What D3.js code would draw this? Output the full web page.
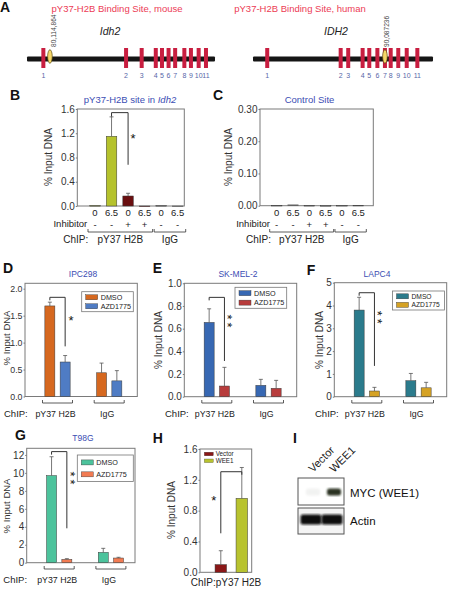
<!DOCTYPE html>
<html><head><meta charset="utf-8">
<script src="https://cdn.jsdelivr.net/npm/d3@7"></script>
<style>body{margin:0;background:#fff}svg{display:block;font-family:"Liberation Sans",Arial,sans-serif}</style>
</head><body><svg id="fig" width="450" height="589"></svg>
<script>
// ---------------- DATA ----------------
// Panel A: gene schematics (positions on a 0-100 schematic axis)
const exonNumbers = ["1","2","3","4","5","6","7","8","9","10","11"];
const mouseExonPos = [8.7, 52.7, 61.0, 68.5, 71.8, 75.3, 78.8, 83.7, 87.2, 91.3, 95.2];
const mouseSitePos = [12.2];
const mouseSiteLabel = "80,114,864";
const humanExonPos = [7.9, 48.7, 52.9, 60.9, 64.6, 69.1, 73.3, 76.5, 80.7, 85.4, 91.3];
const humanSitePos = [73.3];
const humanSiteLabel = "90,087236";

// Panels B, C
const bcDose = ["0", "6.5", "0", "6.5", "0", "6.5"];
const bcInhibitor = ["-", "-", "+", "+", "-", "-"];
const bcGroupIndex = [0, 0, 0, 0, 1, 1];
const chipGroups = ["pY37 H2B", "IgG"];
const bValues = [0.006, 1.15, 0.165, 0, 0.006, 0];
const bErrors = [0, 0.32, 0.045, 0, 0, 0];
const cValues = [0.0006, 0.0025, 0.0004, 0, 0.0004, 0.0008];
const cErrors = [0, 0, 0, 0, 0, 0];

// Panels D-G
const drugSeries = ["DMSO", "AZD1775"];
const dDMSO = [1.68, 0.44], dDMSOErr = [0.07, 0.18], dAZD = [0.64, 0.29], dAZDErr = [0.12, 0.19];
const eDMSO = [0.655, 0.10], eDMSOErr = [0.12, 0.053], eAZD = [0.094, 0.074], eAZDErr = [0.165, 0.07];
const fDMSO = [3.8, 0.70], fDMSOErr = [0.56, 0.32], fAZD = [0.25, 0.39], fAZDErr = [0.16, 0.24];
const gDMSO = [9.7, 1.15], gDMSOErr = [2.1, 0.45], gAZD = [0.37, 0.52], gAZDErr = [0.08, 0.08];

// Panel H
const hSeries = ["Vector", "WEE1"];
const hValues = [0.10, 0.96];
const hErrors = [0.18, 0.40];

// Panel I (western blot)
const blotLanes = ["Vector", "WEE1"];
const blotRows = ["MYC (WEE1)", "Actin"];
const mycIntensity = [0.06, 1];
const actinIntensity = [1, 1];

// Ticks
const bTicks = [0, 0.4, 0.8, 1.2, 1.6];
const cTicks = [0, 0.1, 0.2, 0.3];
const dTicks = [0, 0.5, 1.0, 1.5, 2.0];
const eTicks = [0, 0.2, 0.4, 0.6, 0.8, 1.0];
const fTicks = [0, 1, 2, 3, 4, 5];
const gTicks = [0, 2, 4, 6, 8, 10, 12];
const hTicks = [0, 0.4, 0.8, 1.2, 1.6];

// ---------------- DRAWING ----------------
const FONT = '"Liberation Sans", Arial, Helvetica, sans-serif';
const svg = d3.select("#fig");
const TITLE_BLUE = "#3b4db3";

function txt(g, s, x, y, size, opts = {}) {
  const t = g.append("text").attr("x", x).attr("y", y).attr("font-size", size)
    .attr("font-family", FONT).attr("fill", opts.fill || "#222").text(s);
  if (opts.anchor) t.attr("text-anchor", opts.anchor);
  if (opts.weight) t.attr("font-weight", opts.weight);
  if (opts.style) t.attr("font-style", opts.style);
  if (opts.transform) t.attr("transform", opts.transform).attr("x", 0).attr("y", 0);
  return t;
}
function panelLabel(s, x, y) { txt(svg, s, x, y, 14, { weight: "bold", fill: "#111" }); }

// ---- Panel A ----
function geneTrack(o) {
  const g = svg.append("g");
  const x = d3.scaleLinear().domain([0, 100]).range([o.x0, o.x1]);
  txt(g, o.title, o.titleX, 12, 9.5, { anchor: "middle", fill: "#ec3b55" });
  txt(g, o.name, o.nameX, 35, 10.5, { anchor: "middle", style: "italic", fill: "#222" });
  g.append("rect").attr("x", o.x0).attr("y", 56.5).attr("width", o.x1 - o.x0).attr("height", 5)
    .attr("fill", "#151515").attr("rx", 1);
  g.selectAll("rect.exon").data(o.exons).join("rect").attr("class", "exon")
    .attr("x", d => x(d) - 2).attr("y", 48).attr("width", 4).attr("height", 20).attr("fill", "#c81e40");
  g.selectAll("text.exn").data(o.exons).join("text").attr("class", "exn")
    .attr("x", d => x(d)).attr("y", 78).attr("text-anchor", "middle").attr("font-size", 7)
    .attr("font-family", FONT).attr("fill", "#5867a8").text((d, i) => exonNumbers[i]);
  g.selectAll("ellipse").data(o.site).join("ellipse")
    .attr("cx", d => x(d)).attr("cy", 56.5).attr("rx", 2.3).attr("ry", 6.8)
    .attr("fill", "#f5d668").attr("stroke", "#5a4a10").attr("stroke-width", 0.7);
  g.selectAll("text.site").data(o.site).join("text").attr("class", "site")
    .attr("transform", d => `translate(${x(d) + o.labDx},47) rotate(-90)`)
    .attr("font-size", 6.6).attr("font-family", FONT).attr("fill", "#444").text(o.siteLabel);
}
panelLabel("A", 0, 12);
geneTrack({ title: "pY37-H2B Binding Site, mouse", titleX: 117, name: "Idh2", nameX: 110,
  x0: 27, x1: 215, exons: mouseExonPos, site: mouseSitePos, siteLabel: mouseSiteLabel, labDx: 6.5 });
geneTrack({ title: "pY37-H2B Binding Site, human", titleX: 300, name: "IDH2", nameX: 336,
  x0: 253, x1: 433, exons: humanExonPos, site: humanSitePos, siteLabel: humanSiteLabel, labDx: 4 });

// ---- common helpers ----
function frameAxis(g, y, o, ticks, fmt) {
  g.append("rect").attr("x", o.left).attr("y", o.top).attr("width", o.right - o.left)
    .attr("height", o.bottom - o.top).attr("fill", "none").attr("stroke", "#7a7a7a").attr("stroke-width", 1);
  const ax = g.append("g").attr("transform", `translate(${o.left},0)`)
    .call(d3.axisLeft(y).tickValues(ticks).tickFormat(d3.format(fmt)).tickSize(1.5).tickPadding(1));
  ax.select(".domain").remove();
  ax.selectAll("line").attr("stroke", "#7a7a7a");
  ax.selectAll("text").attr("font-size", o.tickSize || 10).attr("fill", "#333").attr("font-family", FONT);
  txt(g, "% Input DNA", 0, 0, o.ylabSize || 10, { anchor: "middle", fill: "#333",
    transform: `translate(${o.ylabX},${o.ylabY}) rotate(-90)` });
}
function bar(g, cx, w, y, v, e, color) {
  const y0 = y(0);
  g.append("rect").attr("x", cx - w / 2).attr("y", y(v)).attr("width", w)
    .attr("height", Math.max(0.5, y0 - y(v))).attr("fill", color).attr("stroke", "#3a3a3a").attr("stroke-width", 0.5);
  if (e > 0) {
    g.append("line").attr("x1", cx).attr("x2", cx).attr("y1", y(v)).attr("y2", y(v + e))
      .attr("stroke", "#555").attr("stroke-width", 0.8);
    g.append("line").attr("x1", cx - 2).attr("x2", cx + 2).attr("y1", y(v + e)).attr("y2", y(v + e))
      .attr("stroke", "#555").attr("stroke-width", 0.8);
  }
}
function groupBracket(g, xa, xb, yy) {
  g.append("path").attr("d", `M${xa},${yy - 3}V${yy}H${xb}V${yy - 3}`)
    .attr("fill", "none").attr("stroke", "#333").attr("stroke-width", 0.8);
}
// sx, sy: centre of the (first) star
function sig(g, xa, xb, yTop, yEnd, vertAtB, tickLen, stars, sx, sy) {
  const d = vertAtB
    ? `M${xa},${yTop + tickLen}V${yTop}H${xb}V${yEnd}`
    : `M${xb},${yTop + tickLen}V${yTop}H${xa}V${yEnd}`;
  g.append("path").attr("d", d).attr("fill", "none").attr("stroke", "#333").attr("stroke-width", 1);
  if (stars.length === 1) {
    txt(g, stars[0], sx, sy + 7.3, 13, { anchor: "middle", fill: "#111" });
  } else {
    // stacked stars: one text, turned so the characters run downwards
    g.append("text").attr("transform", `translate(${sx - 7.3},${sy - 2.5}) rotate(90)`)
      .attr("font-size", 13).attr("font-family", FONT).attr("fill", "#111")
      .attr("letter-spacing", 3).text(stars.join(""));
  }
}

// ---- Panels B, C ----
function bcPanel(o) {
  const g = svg.append("g");
  const y = d3.scaleLinear().domain([0, o.ymax]).range([o.bottom, o.top]);
  const x = d3.scalePoint().domain(d3.range(bcDose.length)).range([o.left + o.px0, o.left + o.px1]);
  frameAxis(g, y, o, o.ticks, o.fmt);
  o.values.forEach((v, i) => bar(g, x(i), 10.5, y, v, o.errors[i], o.colors[i]));
  const tt = txt(g, "", o.titleX, 103, 9.5, { anchor: "middle", fill: TITLE_BLUE });
  tt.append("tspan").text(o.title);
  if (o.titleItalic) tt.append("tspan").attr("font-style", "italic").text(o.titleItalic);
  bcDose.forEach((d, i) => txt(g, d, x(i), 216, 9.5, { anchor: "middle", fill: "#222" }));
  bcInhibitor.forEach((d, i) => txt(g, d, x(i), 227.5, 9.5, { anchor: "middle", fill: "#222" }));
  txt(g, "Inhibitor", o.left + 10, 226.5, 9.5, { anchor: "end", fill: "#222" });
  txt(g, "ChIP:", o.left + 11, 243, 10, { anchor: "end", fill: "#222" });
  chipGroups.forEach((grp, gi) => {
    const idx = d3.range(bcDose.length).filter(i => bcGroupIndex[i] === gi);
    const xa = x(idx[0]) - 7, xb = x(idx[idx.length - 1]) + 8;
    groupBracket(g, xa, xb, 232);
    txt(g, grp, (xa + xb) / 2, 243, 10, { anchor: "middle", fill: "#222" });
  });
  return { g, x, y };
}
panelLabel("B", 10, 100);
const pb = bcPanel({ left: 77.3, right: 184.3, top: 109, bottom: 206, ymax: 1.6, px0: 17.7, px1: 100.4,
  ticks: bTicks, fmt: ".1f", values: bValues, errors: bErrors,
  colors: ["#b5c22c", "#b5c22c", "#6a0f10", "#6a0f10", "#999", "#999"],
  title: "pY37-H2B site in ", titleItalic: "Idh2", titleX: 130, ylabX: 52, ylabY: 157 });
sig(pb.g, pb.x(1), pb.x(2), pb.y(1.54), pb.y(0.68), true, 4, ["*"], pb.x(2) + 5, pb.y(1.2) + 2);

panelLabel("C", 213, 100);
bcPanel({ left: 260, right: 373.3, top: 109, bottom: 205.7, ymax: 0.30, px0: 16.7, px1: 98.3,
  ticks: cTicks, fmt: ".2f", values: cValues, errors: cErrors,
  colors: ["#888", "#888", "#888", "#888", "#888", "#888"],
  title: "Control Site", titleX: 309.5, ylabX: 232, ylabY: 157 });

// ---- Panels D-G ----
function groupedPanel(o) {
  const g = svg.append("g");
  const y = d3.scaleLinear().domain([0, o.ymax]).range([o.bottom, o.top]);
  const x0 = d3.scalePoint().domain(chipGroups).range([o.left + 32.5, o.left + 84.2]);
  const x1 = d3.scaleBand().domain(drugSeries).range([-12.65, 12.65]).paddingInner(0.346);
  const cx = (grp, s) => x0(grp) + x1(s) + x1.bandwidth() / 2;
  frameAxis(g, y, o, o.ticks, o.fmt);
  const vals = [o.dmso, o.azd], errs = [o.dmsoErr, o.azdErr];
  chipGroups.forEach((grp, gi) => drugSeries.forEach((s, si) =>
    bar(g, cx(grp, s), x1.bandwidth(), y, vals[si][gi], errs[si][gi], o.colors[si])));
  txt(g, o.title, o.titleX, o.titleY, 8.5, { anchor: "middle", fill: TITLE_BLUE });
  // legend
  const L = o.legend;
  g.append("rect").attr("x", L.x).attr("y", L.y).attr("width", L.w).attr("height", L.h)
    .attr("fill", "#fff").attr("stroke", "#777").attr("stroke-width", 0.8);
  const lf = L.font || 7.2;
  drugSeries.forEach((s, si) => {
    const ry = L.y + L.h * (si === 0 ? 0.28 : 0.73);
    g.append("rect").attr("x", L.x + 4).attr("y", ry - 2.5).attr("width", 12).attr("height", 5)
      .attr("fill", o.colors[si]).attr("stroke", "#333").attr("stroke-width", 0.4);
    txt(g, s, L.x + 19, ry + lf * 0.36, lf, { fill: "#222" });
  });
  // groups
  chipGroups.forEach(grp => {
    groupBracket(g, x0(grp) - 15, x0(grp) + 15, o.brY);
    txt(g, grp, x0(grp) - 2, o.chipY, 8.8, { anchor: "middle", fill: "#222" });
  });
  txt(g, "ChIP:", o.chipX, o.chipY, 9.5, { fill: "#222" });
  // significance
  const xa = cx(chipGroups[0], drugSeries[0]), xb = cx(chipGroups[0], drugSeries[1]);
  sig(g, xa, xb, y(o.sigTop), y(o.sigEnd), true, 3, o.stars, xb + 6, y(o.starAt) + 2);
}
panelLabel("D", 3, 273);
groupedPanel({ left: 25, right: 137.3, top: 283.3, bottom: 396.5, ymax: 2.1, ticks: dTicks, fmt: ".1f",
  dmso: dDMSO, dmsoErr: dDMSOErr, azd: dAZD, azdErr: dAZDErr, colors: ["#d6681f", "#4f7cc4"],
  title: "IPC298", titleX: 83, titleY: 276.5, ylabX: 9.5, ylabY: 338, tickSize: 8.8, ylabSize: 9.5,
  legend: { x: 81.7, y: 291.7, w: 51.6, h: 20 }, brY: 403, chipY: 417, chipX: 4,
  sigTop: 1.84, sigEnd: 0.93, stars: ["*"], starAt: 1.5 });

panelLabel("E", 152.7, 273);
groupedPanel({ left: 184.3, right: 296.7, top: 283.3, bottom: 396.7, ymax: 1.0, ticks: eTicks, fmt: ".1f",
  dmso: eDMSO, dmsoErr: eDMSOErr, azd: eAZD, azdErr: eAZDErr, colors: ["#3768b3", "#b83c3c"],
  title: "SK-MEL-2", titleX: 238, titleY: 276.5, ylabX: 162, ylabY: 340,
  legend: { x: 235, y: 287.3, w: 51.7, h: 21 }, brY: 403, chipY: 417, chipX: 165,
  sigTop: 0.876, sigEnd: 0.315, stars: ["*", "*"], starAt: 0.72 });

panelLabel("F", 306.7, 275);
groupedPanel({ left: 334.3, right: 446.7, top: 282.7, bottom: 396.7, ymax: 5, ticks: fTicks, fmt: "d",
  dmso: fDMSO, dmsoErr: fDMSOErr, azd: fAZD, azdErr: fAZDErr, colors: ["#2b7b8c", "#d5a224"],
  title: "LAPC4", titleX: 377, titleY: 277, ylabX: 323, ylabY: 340,
  legend: { x: 392.5, y: 291, w: 52, h: 19, font: 6.7 }, brY: 403, chipY: 417, chipX: 315,
  sigTop: 4.56, sigEnd: 1.35, stars: ["*", "*"], starAt: 3.75 });

panelLabel("G", 15, 440);
groupedPanel({ left: 26.7, right: 135, top: 448.3, bottom: 562.7, ymax: 12.74, ticks: gTicks, fmt: "d",
  dmso: gDMSO, dmsoErr: gDMSOErr, azd: gAZD, azdErr: gAZDErr, colors: ["#4cc39c", "#f27b52"],
  title: "T98G", titleX: 83, titleY: 440.5, ylabX: 9.5, ylabY: 506, ylabSize: 9.5,
  legend: { x: 77.3, y: 455, w: 56, h: 26.5 }, brY: 569, chipY: 583, chipX: 3.3,
  sigTop: 12.37, sigEnd: 3.83, stars: ["*", "*"], starAt: 10.1 });

// ---- Panel H ----
panelLabel("H", 152.7, 443);
(function () {
  const o = { left: 200, right: 251.7, top: 449, bottom: 572.3, ylabX: 175, ylabY: 510 };
  const g = svg.append("g");
  const y = d3.scaleLinear().domain([0, 1.6]).range([o.bottom, o.top]);
  const x = d3.scalePoint().domain(hSeries).range([220.8, 241.8]);
  const colors = ["#8a1717", "#b8c32f"];
  frameAxis(g, y, o, hTicks, ".1f");
  hSeries.forEach((s, i) => bar(g, x(s), 11.5, y, hValues[i], hErrors[i], colors[i]));
  hSeries.forEach((s, i) => {
    const ry = 454 + i * 6.8;
    g.append("rect").attr("x", 204.3).attr("y", ry - 1.8).attr("width", 9).attr("height", 3.6)
      .attr("fill", colors[i]).attr("stroke", "#333").attr("stroke-width", 0.3);
    txt(g, s, 215.7, ry + 2.2, 6.3, { fill: "#222" });
  });
  sig(g, x(hSeries[0]), x(hSeries[1]), y(1.305), y(0.506), false, 3, ["*"], x(hSeries[0]) - 7, y(1.0) + 2);
  txt(g, "ChIP:pY37 H2B", 226, 586, 10, { anchor: "middle", fill: "#222" });
})();

// ---- Panel I ----
panelLabel("I", 293, 443);
(function () {
  const g = svg.append("g");
  const defs = svg.append("defs");
  defs.append("filter").attr("id", "blur").append("feGaussianBlur").attr("stdDeviation", 0.9);
  const lane = d3.scalePoint().domain(blotLanes).range([311, 332]);
  const boxes = [{ y: 478, h: 27, inten: mycIntensity, bandH: 7, bandY: 488.5, bandW: 14, color: "#2c3320" },
                 { y: 508, h: 26, inten: actinIntensity, bandH: 10, bandY: 514.5, bandW: 21, color: "#0e0e0e" }];
  boxes.forEach((b, bi) => {
    g.append("rect").attr("x", 298).attr("y", b.y).attr("width", 46).attr("height", b.h)
      .attr("fill", bi === 0 ? "#fff" : "#f4f4f4").attr("stroke", "#555").attr("stroke-width", 1);
    blotLanes.forEach((l, li) => {
      g.append("rect").attr("x", lane(l) - b.bandW / 2 + (bi === 0 ? 2 : 0)).attr("y", b.bandY)
        .attr("width", b.bandW).attr("height", b.bandH).attr("rx", 2.5)
        .attr("fill", b.color).attr("opacity", b.inten[li]).attr("filter", "url(#blur)");
    });
    txt(g, blotRows[bi], 350, b.y + (bi === 0 ? 19 : 17), 11.5, { fill: "#111" });
  });
  blotLanes.forEach(l => txt(g, l, 0, 0, 11, { fill: "#222",
    transform: `translate(${lane(l) + 2},473) rotate(-45)` }));
})();
</script></body></html>
